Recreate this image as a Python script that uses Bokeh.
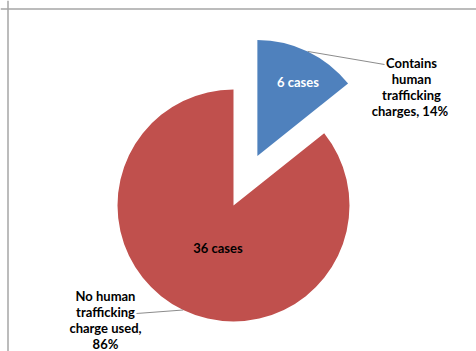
import numpy as np
from bokeh.plotting import figure
from bokeh.models import Range1d, Span, ColumnDataSource
from bokeh.core.properties import value
from bokeh.embed import file_html
from bokeh.resources import INLINE

# ---- data ----
categories = ["Contains human trafficking charges", "No human trafficking charge used"]
cases = [6, 36]
percent_labels = ["14%", "86%"]
inner_labels = ["6 cases", "36 cases"]
outer_labels = ["Contains\nhuman\ntrafficking\ncharges,  14%",
                "No human\ntrafficking\ncharge used,\n86%"]
colors = ["#4F81BD", "#C0504D"]
inner_text_colors = ["#FFFFFF", "#000000"]

# ---- layout constants (pixels, y up) ----
W, H = 476, 351
cx, cy = 233, 146
radius = 116
explode = [55, 0]
inner_pos = [(297.5, 270), (217.5, 104)]
outer_pos = [(411, 265), (105, 31.5)]
leader_end = [(384, 287), (136, 38)]
font = "Lato"

vals = np.array(cases, dtype=float)
frac = vals / vals.sum()
ang = 2 * np.pi * frac
cum = np.concatenate([[0], np.cumsum(ang)])
start = np.pi / 2 - cum[:-1]
end = np.pi / 2 - cum[1:]
mid = (start + end) / 2
ex = cx + np.array(explode) * np.cos(mid)
ey = cy + np.array(explode) * np.sin(mid)

p = figure(width=W, height=H, x_range=Range1d(0, W), y_range=Range1d(0, H),
           output_backend="svg", toolbar_location=None, min_border=0,
           x_axis_location=None, y_axis_location=None)
p.grid.visible = False
p.outline_line_color = None
p.background_fill_color = "white"
p.border_fill_color = "white"

src = ColumnDataSource(dict(x=ex, y=ey, start=start, end=end, color=colors, cat=categories))
p.wedge(x="x", y="y", radius=radius, start_angle="start", end_angle="end",
        direction="clock", fill_color="color", line_color=None, source=src)

# leader lines
ax = ex + radius * np.cos(mid)
ay = ey + radius * np.sin(mid)
p.segment(x0=list(ax), y0=list(ay), x1=[e[0] for e in leader_end], y1=[e[1] for e in leader_end],
          line_color="#8C8C8C", line_width=1)

# inner labels
p.text(x=[q[0] for q in inner_pos], y=[q[1] for q in inner_pos], text=inner_labels,
       text_color=inner_text_colors, text_font=value(font), text_font_style="bold",
       text_font_size="13px", text_align="center", text_baseline="middle")

# outer labels
p.text(x=[q[0] for q in outer_pos], y=[q[1] for q in outer_pos], text=outer_labels,
       text_color="#000000", text_font=value(font), text_font_style="bold",
       text_font_size="13px", text_align="center", text_baseline="middle",
       text_line_height=1.0)

# chart-area border (left and top visible)
p.add_layout(Span(location=7.5, dimension="height", line_color="#A6A6A6", line_width=1.5))
p.add_layout(Span(location=H - 8.5, dimension="width", line_color="#A6A6A6", line_width=1.5))

open("out.html", "w").write(file_html(p, INLINE))
